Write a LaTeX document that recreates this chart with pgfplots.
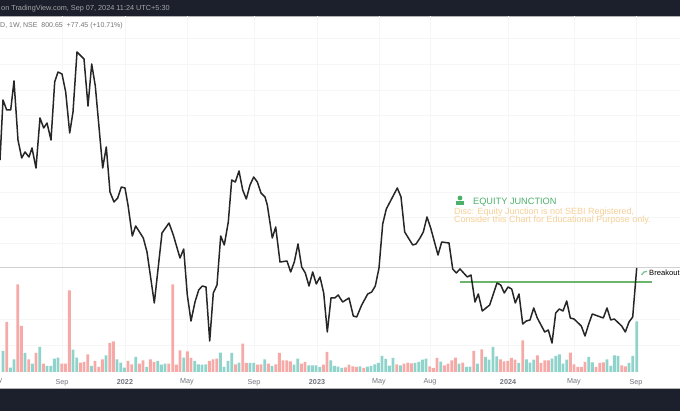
\documentclass[border=0pt]{standalone}
\usepackage{pgfplots}
\usepackage{fontspec}
\setmainfont{Liberation Sans}
\pgfplotsset{compat=1.18}
\definecolor{band}{HTML}{1C202D}
\definecolor{gridc}{HTML}{F5F6F8}
\definecolor{pinkv}{HTML}{F6AAA8}
\definecolor{tealv}{HTML}{8FD3CB}
\definecolor{greenl}{HTML}{6DB56D}
\definecolor{eqgreen}{HTML}{4CAF6A}
\definecolor{orangec}{HTML}{F6CF96}
\definecolor{ticktxt}{HTML}{70747C}
\begin{document}
\begin{tikzpicture}[x=1pt,y=1pt]
\path[use as bounding box] (0,-39) rectangle (680,372);
\fill[band] (0,356) rectangle (680,372);
\fill[band] (0,-39) rectangle (680,-17);
\draw[gray!60,line width=0.5pt] (0,355.6)--(680,355.6);
\draw[gray!60,line width=0.5pt] (0,-16.6)--(680,-16.6);
\begin{axis}[
  at={(0pt,0pt)},anchor=south west,
  width=680pt,height=356pt,scale only axis,
  xmin=0,xmax=680,ymin=0,ymax=356,
  axis line style={draw=none},
  tick style={draw=none},
  clip=true,
  grid=major,
  grid style={gridc,line width=0.6pt},
  ytick={27,53,129,155,180,206,231,257,282,308,334},
  yticklabels={},
  xtick={62,125,187,254,317,379,430,508,574,636},
  xticklabels={Sep,\textbf{2022},May,Sep,\textbf{2023},May,Aug,\textbf{2024},May,Sep},
  xticklabel style={font=\fontsize{7.2}{8}\selectfont,text=ticktxt,yshift=-3.5pt},
]
\addplot[ybar,bar width=2.9pt,bar shift=0pt,draw=none,fill=pinkv] coordinates {
(6.7,50)(17.7,87.7)(21.3,46)(28.7,12.7)(36,19)(43.3,8.3)(61.7,8.3)(65.3,8.3)(69.3,81.7)(80.3,9.3)(84,10)(87.7,17.7)(95,11)(98.7,5)(102.3,12.7)(109.7,29)(113.3,30.7)(128,11)(131.7,7.7)(139.3,8.3)(143,11.7)(150.3,12.7)(154,10)(168.7,8.3)(172.7,87.7)(176.3,7.3)(180,21.7)(187.3,20.7)(191,14)(209.3,11)(213,12.7)(216.7,13.3)(235.3,7.7)(242.7,28.3)(246.3,9)(257.3,7.3)(261,7.7)(268.3,8.3)(275.7,7.7)(279.3,19)(283,11.7)(286.7,11.7)(290.3,10.7)(301.3,8.3)(305,10)(323.3,7.3)(327,20)
(345.3,4.7)(349,7.3)(352.7,5.7)(356.3,5)(363.7,4)(396.7,7.7)(404,8.3)(407.7,9.3)(411.3,8.7)(429.7,5.7)(433.3,4)(437,14)(444.3,6.7)(448,8.3)(451.7,11.7)(455.3,14.3)(462.7,9.3)(473.7,21)(481.7,22.7)(500.3,12.7)(504,10.7)(507.7,11)(511.3,14)(515,12.3)(522.7,31.7)(537.3,16.7)(541,9)(544.7,11.7)(548.3,11.7)(570.3,19.3)(574,7.7)(577.7,5)(581.3,5)(585,10)(596,5)(599.7,9)(603.3,9.7)(621.7,6.7)(625.3,5.7)};
\addplot[ybar,bar width=2.9pt,bar shift=0pt,draw=none,fill=tealv] coordinates {
(3,21)(10.3,4.3)(14,12.7)(25,19)(32.3,8.3)(39.7,25)(47,6)(50.7,6)(54.3,13.3)(58,14.3)(73,22.3)(76.7,14.3)(91.3,6)(106,16.7)(117,12.7)(120.7,9.3)(124.3,4.3)(135.7,15)(146.7,5)(157.7,11)(161.3,7.3)(165,8.3)(183.7,14.3)(194.7,11)(198.3,7.7)(202,7.3)(205.7,7.7)(220.3,19.3)(224,5)(228,11)(231.7,19)(239,9.3)(250,9)(253.7,9)(264.7,12.7)(272,6)(294,7.3)(297.7,13.3)(308.7,6.7)(312.3,6.7)(316,6.7)(319.7,5)(330.7,11.7)(334.3,6)(338,5.3)
(341.7,4)(360,5.7)(367.3,5.3)(371,6)(374.7,7.7)(378.3,9)(382,16)(385.7,13)(389.3,6.3)(393,14)(400.3,6.7)(415,9)(418.7,10)(422.3,12.3)(426,13.3)(440.7,10.3)(459,8.3)(466.3,5)(470,5.3)(477.3,8.3)(485.3,15)(489,12.3)(493,25)(496.7,15.7)(518.7,9)(526.3,12.7)(530,9.3)(533.7,12.3)(552,13.3)(555.7,16)(559.3,17.7)(563,8.3)(566.7,12.3)(588.7,15)(592.3,9.7)(607,12.7)(610.7,6)(614.3,16.7)(618,16)(629,9)(632.7,16)(636.7,50.7)};
\addplot[draw=black!18,line width=1pt] coordinates {(0,104)(680,104)};
\addplot[color=greenl,line width=1.3pt] coordinates {(460,90)(652,90)};
\addplot[draw=black!85,line width=1.5pt,line join=round] coordinates {
(0,212)(3,272)(6.7,262)(10.7,262)(14,291)(18,232)(21.7,214)(25,220)(29,215)(32,224)(36,204)(40,254)(43.7,244)(47,249)(51,232)(54.7,290)(58,300)(62,298)(65.7,280)(69.7,239)(73,260)(77,320)(84,313)(88,266)(91.7,308)(95.3,286)(99,245)(102.7,204)(106.3,225)(110,180)(114,170)(117.7,174)(121.3,185)(125,184)(128,167)(132.3,136)(135.7,146)(143.3,134)(147,120)(154.3,69)(162,139)(169,149)(173.3,137)(180,114)(183.7,123)(187.3,77)(191,51)(195,70)(198.7,82)(202.3,86)(206,85)(209.7,31)(213.3,79)(217,87)(220.7,136)(224.3,127)(228.3,150)(231.7,192)(235.3,190)(239,201)(242.7,182)(246.3,173)(250,187)(253.7,195)(257.3,190)(261,179)(265,175)(267.3,167)(272.3,134)(275.7,145)(280,110)(287,111)(290.7,100)(294.3,110)(298,128)(301.7,105)(305.3,99)(309,86)(312.7,100)(316.3,88)(320,95)(323.7,79)(327.3,40)(331,74)(334.7,74)(338.3,77)(340,74)(342.7,70)(349,74)(353.3,56)(356.7,55)(361.7,67)(367.7,78)(371.7,80)(375.3,86)(379,104)(382.7,148)(386.3,163)(397.3,184)(401,175)(404.7,140)(412.7,127)(416,128)(420,134)(423.3,140)(427,155)(430.7,144)(438,117)(441.7,130)(449,129)(452.7,103)(456.3,99)(460,103)(467.3,95)(471,97)(475,70)(478.3,78)(482.3,61)(489.7,67)(497,89)(500.7,87)(504.3,79)(508,85)(511.7,83)(515.3,69)(519,78)(522.7,48)(526.3,51)(530,52)(533.7,64)(537.3,54)(544.7,40)(548.3,42)(552,29)(555.7,59)(559.3,63)(563,61)(566.7,71)(570.3,54)(574,53)(581.3,46)(585,36)(588.7,48)(592.3,58)(603.3,54)(607,64)(610.7,52)(614.3,53)(621.7,46)(625.3,40)(629,50)(632.7,55)(636.7,104)};
\end{axis}
\node[anchor=center,font=\fontsize{7.2}{8}\selectfont,text=ticktxt] at (0.5,-9) {y};
\node[anchor=west,inner sep=0pt,font=\fontsize{7.3}{9}\selectfont,text=black!35] at (1,363) {on TradingView.com, Sep 07, 2024 11:24 UTC+5:30};
\node[anchor=west,inner sep=0pt,font=\fontsize{7}{9}\selectfont,text=black!55] at (0,346) {D, 1W, NSE\ \ 800.65\ \ +77.45 (+10.71\%)};
\node[anchor=west,inner sep=0pt,font=\fontsize{9.2}{10}\selectfont,text=eqgreen] at (473,170) {EQUITY JUNCTION};
\node[anchor=west,inner sep=0pt,font=\fontsize{9}{9}\selectfont,text=orangec] at (454,160) {Disc: Equity Junction is not SEBI Registered,};
\node[anchor=west,inner sep=0pt,font=\fontsize{9}{9}\selectfont,text=orangec] at (454,151.5) {Consider this Chart for Educational Purpose only.};
\fill[eqgreen] (460,174) circle (2.4);
\fill[eqgreen] (455.8,166.6) rectangle (464.2,170.6);
\draw[eqgreen!80,line width=1.2pt] (641.5,97)--(644,100)--(647,100.5);
\node[anchor=west,inner sep=0pt,font=\fontsize{7.6}{9}\selectfont,text=black] at (649,99) {Breakout};
\end{tikzpicture}
\end{document}
